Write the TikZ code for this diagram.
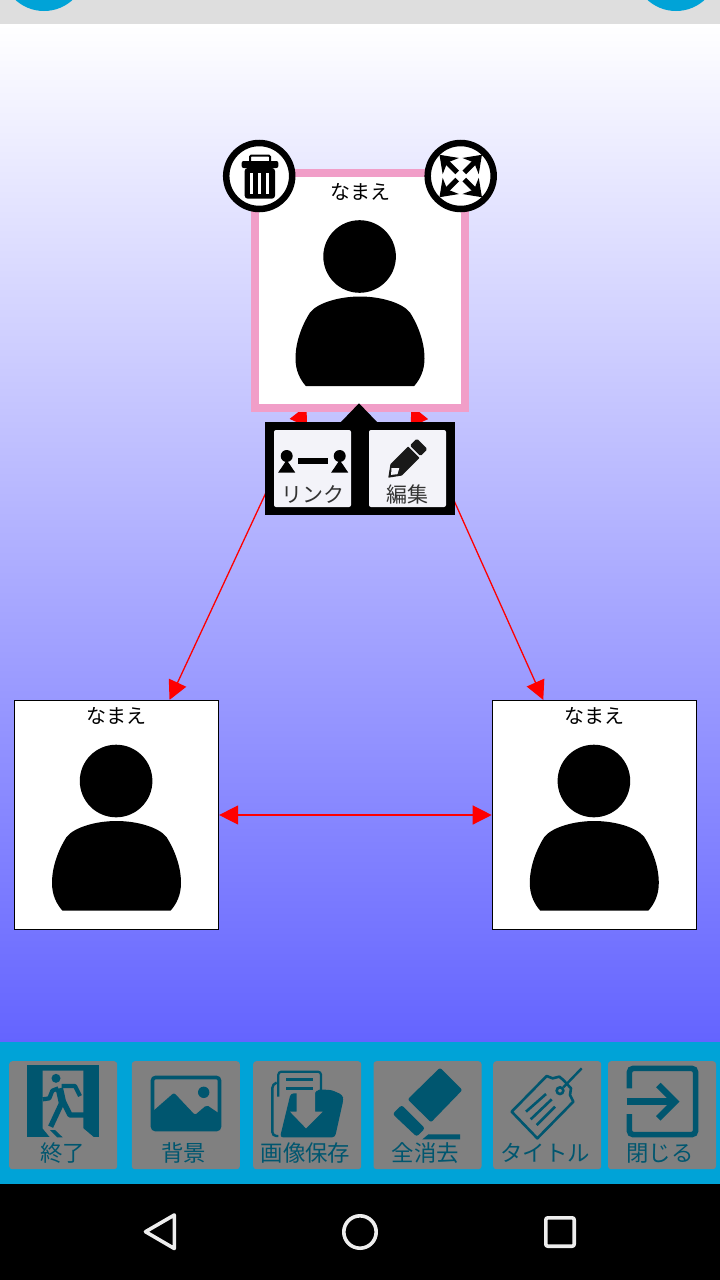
\documentclass[tikz,border=0pt]{standalone}
\usepackage{fontspec}
\newfontfamily\cjk{Noto Sans CJK JP}
\usetikzlibrary{arrows.meta}
\usetikzlibrary{backgrounds}
\definecolor{barblue}{HTML}{00A3D7}
\definecolor{icondark}{HTML}{00566F}
\definecolor{btngray}{HTML}{808080}
\definecolor{popupbtn}{HTML}{F3F3F9}
\definecolor{pinkframe}{HTML}{F19EC8}
\definecolor{navgray}{HTML}{EEEEEE}
\tikzset{
    card/.style={draw=black, fill=white, line width=1.2pt, inner sep=0pt, minimum width=204pt, minimum height=229pt},
    selcard/.style={draw=pinkframe, fill=white, line width=8pt, inner sep=0pt, outer sep=0pt, minimum width=210pt, minimum height=235pt},
    linkarrow/.style={red, line width=1.3pt, {Triangle[length=19pt,width=19pt]}-{Triangle[length=19pt,width=19pt]}},
    nametext/.style={font=\cjk\fontsize{20}{20}\selectfont, inner sep=0pt},
    popuptext/.style={font=\cjk\fontsize{21}{21}\selectfont, text=black!80, inner sep=0pt},
    bartext/.style={font=\cjk\fontsize{22.4}{22.4}\selectfont, text=icondark, inner sep=0pt},
    barbtn/.style={fill=btngray, rounded corners=3pt, inner sep=0pt, minimum width=108pt, minimum height=108pt},
    popupbtnbox/.style={fill=popupbtn, rounded corners=2pt, inner sep=0pt, minimum width=77pt, minimum height=77pt},
    roundbtn/.style={draw=black, fill=white, line width=6.5pt, circle, inner sep=0pt, outer sep=0pt, minimum size=66pt},
    navline/.style={draw=navgray, line width=3.6pt, line join=round},
    person/.pic={
        \fill[black] (-0.4, -34) circle (36.3);
        \fill[black] (-54, 95.7) .. controls (-60, 89) and (-64.5, 80) .. (-64.5, 68)
            .. controls (-64.5, 50) and (-57, 33) .. (-50, 22)
            .. controls (-42, 12) and (-20, 6) .. (0, 6)
            .. controls (20, 6) and (42, 12) .. (50, 22)
            .. controls (57, 33) and (64.5, 50) .. (64.5, 68)
            .. controls (64.5, 80) and (60, 89) .. (54, 95.7) -- cycle;
    },
}
\begin{document}
\begin{tikzpicture}[x=1pt, y=-1pt]
    \useasboundingbox (0, 0) rectangle (720, 1280);

    \begin{scope}[on background layer]
        \shade[top color=white, bottom color={rgb,255:red,100;green,100;blue,255}] (0, 24) rectangle (720, 1042);
    \end{scope}

    \fill[black!13] (0, 0) rectangle (720, 24);
    \begin{scope}
        \clip (0, 0) rectangle (720, 24);
        \fill[barblue] (44, -31.4) circle (42.4);
        \fill[barblue] (676, -31.4) circle (42.4);
    \end{scope}

    \node[selcard] (top) at (360, 290.5) {};
    \node[card] (left) at (116.5, 815) {};
    \node[card] (right) at (594.3, 815) {};

    \begin{scope}[on background layer]
        \draw[linkarrow, shorten <=-2.5pt] (top) -- (left);
        \draw[linkarrow, shorten <=-2.5pt] (top) -- (right);
        \draw[linkarrow] (left) -- (right);
    \end{scope}

    \foreach \c in {top, left, right} {
        \path (\c.center) pic {person};
        \node[nametext] (\c name) at ([yshift=99pt]\c.center) {なまえ};
    }

    \node[roundbtn] (trash) at (259.2, 176) {};
    \node[roundbtn] (expand) at (460.7, 176) {};

    \begin{scope}[shift={(220, 136)}, scale=1/3]
        \draw[black, line width=2pt, rounded corners=1pt] (90, 75) -- (90, 59) -- (150, 59) -- (150, 75);
        \fill[black, rounded corners=2pt] (65, 75) rectangle (175, 96);
        \fill[black, rounded corners=3pt] (74, 96) rectangle (165, 188);
        \foreach \s in {89, 114, 138} {
            \fill[white] (\s, 110) rectangle (\s + 10, 175);
        }
    \end{scope}

    \foreach \ang in {45, 135, 225, 315} {
        \begin{scope}[shift={(expand.center)}, rotate=\ang]
            \draw[black, line width=5.2pt] (5, 0) -- (20, 0);
            \fill[black] (30, 0) -- (14, -11.5) -- (19, 0) -- (14, 11.5) -- cycle;
        \end{scope}
    }

    \fill[black] (340, 423) -- (359, 403.3) -- (378, 423) -- cycle;
    \fill[black] (265, 422) rectangle (455, 515);
    \node[popupbtnbox] (linkbtn) at (312.5, 468.5) {};
    \node[popupbtnbox] (editbtn) at (407.5, 468.5) {};
    \node[popuptext] (linktext) at (312.5, 494) {リンク};
    \node[popuptext] (edittext) at (407.5, 494) {編集};

    \foreach \px in {286.7, 339.7} {
        \fill[black] (\px, 456) circle (6);
        \fill[black] (\px, 460) -- (\px + 8.5, 472.5) -- (\px - 8.5, 472.5) -- cycle;
    }
    \fill[black] (298.3, 458.3) rectangle (328.3, 464.3);

    \begin{scope}[shift={(388.3, 477.7)}, rotate=45]
        \fill[black!90, rounded corners=0.5pt] (0, 0) -- (11, -8) -- (36, -8) -- (36, 8) -- (11, 8) -- cycle;
        \fill[popupbtn] (4, 0) -- (9, -4.6) -- (14.5, 1) -- (9, 4) -- cycle;
        \fill[black!90, rounded corners=1.5pt] (38, -7.5) rectangle (48, 7.5);
    \end{scope}

    \fill[barblue] (0, 1042) rectangle (720, 1184);
    \fill[black] (0, 1184) rectangle (720, 1280);

    \foreach \nm/\cx/\tx/\txt in {quit/63.2/62.5/終了, back/185.8/183.5/背景, save/307.2/305.5/画像保存, clear/427.5/425.5/全消去, title/547.2/545/タイトル, close/662/660/閉じる} {
        \node[barbtn] (\nm btn) at (\cx, 1115.2) {};
        \node[bartext] (\nm text) at (\tx, 1153) {\txt};
    }

    \begin{scope}[shift={(20, 1060)}, scale=1/3, icondark]
        \fill (20, 15) rectangle (237, 232);
        \fill[btngray] (68, 32) -- (190, 32) -- (190, 205) -- (222, 232) -- (90, 232) -- (68, 205) -- cycle;
        \fill (108, 55) circle (13.5);
        \draw[line width=4.2pt, line join=round] (115, 85) -- (97, 92) -- (88, 115) -- (68, 118);
        \draw[line width=4.2pt, line join=round] (125, 78) -- (165, 78) -- (180, 108);
        \draw[line width=7.5pt] (118, 85) -- (128, 130);
        \draw[line width=5.4pt] (127, 125) -- (92, 200);
        \draw[line width=5.4pt, line join=round] (130, 125) -- (150, 165) -- (205, 165);
        \fill (90, 210) -- (105, 210) -- (128, 232) -- (112, 232) -- cycle;
    \end{scope}

    \begin{scope}[icondark]
        \draw[line width=3.6pt, rounded corners=3pt] (152.5, 1077.5) rectangle (219.5, 1129.5);
        \fill (203.7, 1092.3) circle (5.7);
        \fill[rounded corners=2pt] (152, 1112) -- (174, 1092.7) -- (195, 1115) -- (206.7, 1105) -- (220, 1114) -- (220, 1130) -- (152, 1130) -- cycle;
    \end{scope}

    \begin{scope}[shift={(260, 1060)}, scale=1/3, icondark]
        \draw[line width=2.4pt, rounded corners=4pt] (50, 68) -- (37, 72) -- (37, 228) -- (55, 228);
        \draw[line width=2.2pt, rounded corners=3pt] (55, 110) -- (55, 35) -- (183, 35) -- (183, 95);
        \draw[line width=3.2pt] (78, 58) -- (158, 58);
        \draw[line width=3.2pt] (78, 85) -- (158, 85);
        \fill[rounded corners=3pt] (60, 232) -- (92, 100) -- (168, 100) -- (172, 88) -- (215, 90) -- (248, 105) -- (250, 120) -- (225, 232) -- cycle;
        \fill[btngray] (110, 90) -- (165, 90) -- (165, 155) -- (188, 155) -- (138, 205) -- (90, 155) -- (110, 155) -- cycle;
    \end{scope}

    \begin{scope}[shift={(360, 1040)}, scale=1/3, icondark]
        \fill[rounded corners=2pt] (240, 83) -- (307, 150) -- (213, 247) -- (143, 178) -- cycle;
        \fill[rounded corners=2.5pt] (125, 195) -- (195, 265) -- (170, 290) -- (98, 222) -- cycle;
        \fill (205, 283) -- (300, 283) -- (300, 298) -- (187, 298) -- cycle;
    \end{scope}

    \begin{scope}[shift={(500, 1060)}, scale=1/3, icondark]
        \draw[line width=2.6pt, line join=round] (35, 155) -- (140, 48) -- (158, 55) -- (178, 50) -- (190, 60) -- (213, 85) -- (210, 105) -- (220, 125) -- (112, 235) -- cycle;
        \draw[line width=2.6pt] (180, 92) circle (10);
        \draw[line width=2.4pt] (190, 82) -- (245, 25);
        \draw[line width=2.6pt] (78, 155) -- (138, 102);
        \draw[line width=2.6pt] (92, 178) -- (155, 118);
        \draw[line width=2.6pt] (110, 195) -- (165, 140);
    \end{scope}

    \begin{scope}[shift={(360, 1040)}, scale=1/3, icondark]
        \draw[line width=5.6pt, rounded corners=4pt] (808, 145) -- (808, 85) -- (1007, 85) -- (1007, 284) -- (808, 284) -- (808, 222);
        \draw[line width=6.4pt] (800, 185) -- (945, 185);
        \draw[line width=6.4pt] (895, 135) -- (945, 185) -- (895, 235);
    \end{scope}

    \draw[navline] (145.5, 1231.7) -- (174.3, 1215) -- (174.3, 1248.5) -- cycle;
    \draw[navline] (360, 1232) circle (16.2);
    \draw[navline, rounded corners=2pt] (545.8, 1217.8) rectangle (574.2, 1246.2);
\end{tikzpicture}
\end{document}
